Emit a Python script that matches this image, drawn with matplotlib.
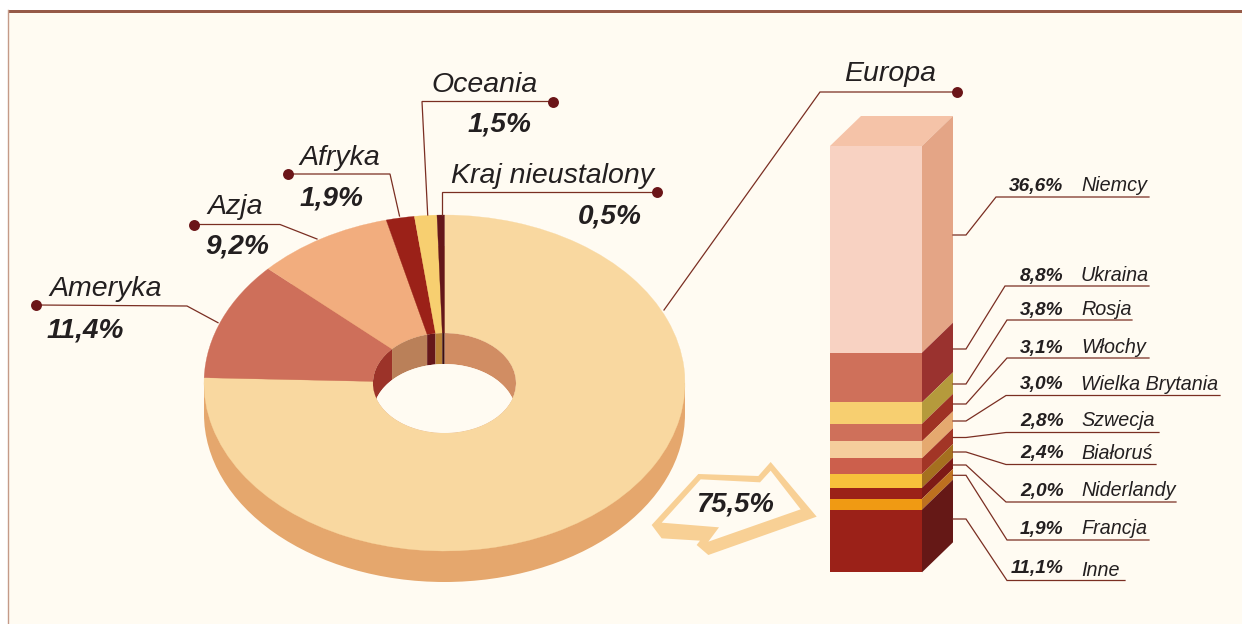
import matplotlib
matplotlib.use('Agg')
import numpy as np
from matplotlib import pyplot as plt
from matplotlib.patches import Wedge, Ellipse, Polygon, Rectangle
from matplotlib.transforms import Affine2D

plt.rcParams['font.family'] = ['Liberation Sans', 'DejaVu Sans']

# dane - kontynenty
regions = ['Europa', 'Ameryka', 'Azja', 'Afryka', 'Oceania', 'Kraj nieustalony']
region_values = [75.5, 11.4, 9.2, 1.9, 1.5, 0.5]
region_colors = ['#f9d8a0', '#ce6f5a', '#f2ad7e', '#9b2118', '#f7cf70', '#65171a']
wall_colors = ['#d18d63', '#9c3329', '#ba8059', '#65171a', '#b98237', '#3d0e10']

# dane - kraje w Europie
countries = ['Niemcy', 'Ukraina', 'Rosja', 'Włochy', 'Wielka Brytania', 'Szwecja',
             'Białoruś', 'Niderlandy', 'Francja', 'Inne']
country_values = [36.6, 8.8, 3.8, 3.1, 3.0, 2.8, 2.4, 2.0, 1.9, 11.1]
front_colors = ['#f8d2c2', '#cf705a', '#f7cf70', '#cf705a', '#f5cd9c', '#cc5f4c',
                '#f7c13b', '#9b2118', '#f09a13', '#9b2118']
side_colors = ['#e4a586', '#9a322f', '#b59a3c', '#9f3224', '#e5a96f', '#a23526',
               '#a5701f', '#7e1a16', '#bd701f', '#651816']

bg = '#fffbf2'
line_c = '#7a2e22'
dot_c = '#6b1518'
text_c = '#231f20'


def pct(v):
    return f'{v:.1f}%'.replace('.', ',')


fig = plt.figure(figsize=(12.42, 6.24), dpi=100, facecolor='white')
ax = fig.add_axes([0, 0, 1, 1])
ax.set_xlim(0, 1242)
ax.set_ylim(624, 0)
ax.axis('off')

# tlo i ramka
ax.add_patch(Rectangle((8, 10), 1234, 614, fc=bg, ec='none'))
ax.plot([8, 8], [10, 624], color='#c49a88', lw=1)
ax.add_patch(Rectangle((8, 9.5), 1234, 3.2, fc='#965a48', ec='none'))

# pierscien 3d
cx, cy = 444.5, 383
rx, ry = 240.5, 168
depth = 31
inner = 0.2975

ax.add_patch(Ellipse((cx, cy + depth), 2 * rx, 2 * ry, fc='#e5a76d', ec='none'))
ax.add_patch(Rectangle((cx - rx, cy), 2 * rx, depth, fc='#e5a76d', ec='none'))

ring = Affine2D().scale(rx, ry).translate(cx, cy) + ax.transData
hole_clip = Ellipse((cx, cy), 2 * rx * inner, 2 * ry * inner, fc=bg, ec='none')
ax.add_patch(hole_clip)

start = -90.0
for v, c, w in zip(region_values, region_colors, wall_colors):
    end = start + v * 3.6
    ax.add_patch(Wedge((0, 0), 1, start, end, width=1 - inner, fc=c, ec=c, lw=0.2, transform=ring))
    # scianka wewnetrzna - pionowa, wiec luk przesuniety o glebokosc
    t = np.radians(np.linspace(start, end, 40))
    arc_x = cx + rx * inner * np.cos(t)
    arc_y = cy + ry * inner * np.sin(t)
    wall = Polygon(np.column_stack([np.r_[arc_x, arc_x[::-1]], np.r_[arc_y, arc_y[::-1] + depth]]),
                   fc=w, ec='none')
    ax.add_patch(wall)
    wall.set_clip_path(hole_clip)
    start = end

# dziura - widoczne tlo przez srodek
hole = Ellipse((cx, cy + depth), 2 * rx * inner, 2 * ry * inner, fc=bg, ec='none')
ax.add_patch(hole)
hole.set_clip_path(hole_clip)

# slupek
bar_left, bar_right = 830, 922
bar_top, bar_bottom = 146, 572.3
dx, dy = 31, -30
scale = (bar_bottom - bar_top) / sum(country_values)

ax.add_patch(Polygon([(bar_left, bar_top), (bar_left + dx, bar_top + dy),
                      (bar_right + dx, bar_top + dy), (bar_right, bar_top)],
                     fc='#f5c3a8', ec='none'))
y = bar_top
for v, c, s in zip(country_values, front_colors, side_colors):
    h = v * scale
    ax.bar(bar_left, h, width=bar_right - bar_left, bottom=y, align='edge', color=c, lw=0)
    ax.add_patch(Polygon([(bar_right, y), (bar_right + dx, y + dy),
                          (bar_right + dx, y + h + dy), (bar_right, y + h)],
                         fc=s, ec='none'))
    y += h
ax.set_xlim(0, 1242)
ax.set_ylim(624, 0)

# strzalka
arrow_outer = np.array([(35, 225), (175, 72), (355, 78), (392, 36), (530, 200),
                        (205, 315), (170, 285), (180, 272), (65, 265)]) / 3 + (640, 450)
arrow_inner = np.array([(65, 218), (182, 88), (360, 97), (392, 62), (482, 178),
                        (205, 275), (237, 232)]) / 3 + (640, 450)
ax.add_patch(Polygon(arrow_outer, fc='#f8d095', ec='none'))
ax.add_patch(Polygon(arrow_inner, fc=bg, ec='none'))
ax.text(735.5, 512, pct(region_values[0]), fontsize=19.8, fontweight='bold', style='italic',
        color=text_c, ha='center', va='baseline')

# linie i podpisy kontynentow
leaders = {
    'Europa': [(957, 92), (820, 92), (664, 310)],
    'Ameryka': [(36, 305), (187, 306), (218, 322.7)],
    'Azja': [(194, 224.5), (280, 224.5), (317, 239)],
    'Afryka': [(288, 174), (390, 174), (399.5, 216)],
    'Oceania': [(552.7, 101.5), (422, 101.5), (427.7, 215)],
    'Kraj nieustalony': [(657, 192), (442, 192), (442, 215)],
}
name_pos = {
    'Europa': (844, 81), 'Ameryka': (49, 296), 'Azja': (207, 214),
    'Afryka': (299, 165), 'Oceania': (431, 92), 'Kraj nieustalony': (451, 183),
}
value_pos = {
    'Ameryka': (47, 337), 'Azja': (205, 254), 'Afryka': (300, 205),
    'Oceania': (468, 132), 'Kraj nieustalony': (578, 223),
}
for name, v in zip(regions, region_values):
    pts = np.array(leaders[name])
    ax.plot(pts[:, 0], pts[:, 1], color=line_c, lw=0.9, solid_joinstyle='miter')
    ax.scatter(pts[0, 0], pts[0, 1], s=62, color=dot_c, lw=0, zorder=5)
    ax.text(*name_pos[name], name, fontsize=20.5, style='italic', color=text_c, va='baseline')
    if name in value_pos:
        ax.text(*value_pos[name], pct(v), fontsize=20.2, fontweight='bold', style='italic',
                color=text_c, va='baseline')

# linie i podpisy krajow
anchor_y = [235, 349, 384, 404, 421, 437.5, 452, 465, 475.3, 519]
elbow_x = [996, 1005, 1007, 1007, 1006, 1006, 1006, 1006, 1007, 1007]
under_y = [197, 286, 320, 358, 395.5, 432.5, 464.5, 502, 540, 580.5]
under_end = [1149, 1149, 1132, 1149, 1220, 1159, 1156, 1176, 1149, 1125]
base_y = [191, 281, 315, 353, 389.5, 426, 459, 496, 534, 576]
value_y = [191, 281, 315, 353, 389.5, 426, 458, 496, 534, 573]
for i, name in enumerate(countries):
    ax.plot([953, 966, elbow_x[i], under_end[i]],
            [anchor_y[i], anchor_y[i], under_y[i], under_y[i]],
            color=line_c, lw=0.9, solid_joinstyle='miter')
    ax.text(1063.5, value_y[i], pct(country_values[i]), fontsize=13.8, fontweight='bold',
            style='italic', color=text_c, ha='right', va='baseline')
    ax.text(1081, base_y[i], name, fontsize=14.2, style='italic', color=text_c, va='baseline')

fig.savefig('out.png', dpi=100, facecolor='white')
